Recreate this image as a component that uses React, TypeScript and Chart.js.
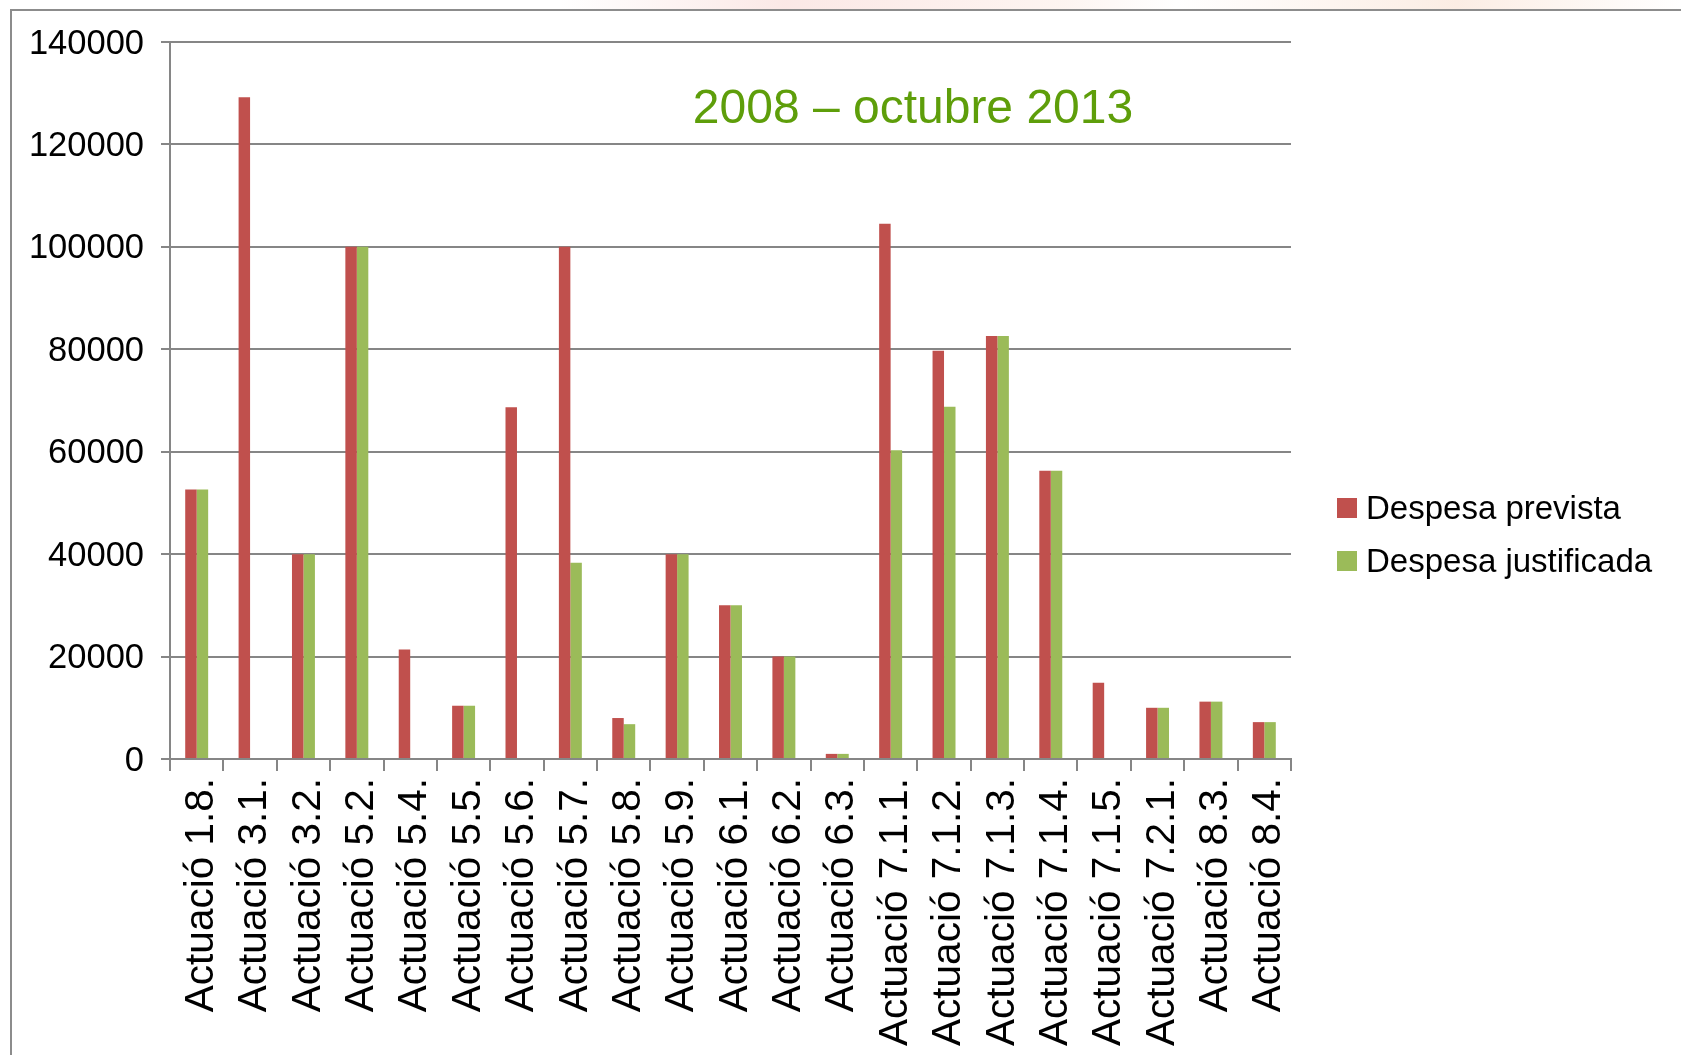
import React, { useEffect, useRef } from "react";
import { Chart, registerables } from "chart.js";

Chart.register(...registerables);

const FONT = '"Liberation Sans", Arial, Helvetica, sans-serif';

const categories = [
  "Actuació 1.8.", "Actuació 3.1.", "Actuació 3.2.", "Actuació 5.2.", "Actuació 5.4.",
  "Actuació 5.5.", "Actuació 5.6.", "Actuació 5.7.", "Actuació 5.8.", "Actuació 5.9.",
  "Actuació 6.1.", "Actuació 6.2.", "Actuació 6.3.", "Actuació 7.1.1.", "Actuació 7.1.2.",
  "Actuació 7.1.3.", "Actuació 7.1.4.", "Actuació 7.1.5.", "Actuació 7.2.1.", "Actuació 8.3.",
  "Actuació 8.4.",
];

const despesaPrevista = [
  52600, 129200, 40000, 100000, 21400,
  10400, 68700, 100000, 8000, 40000,
  30000, 20000, 1000, 104500, 79700,
  82600, 56300, 14900, 10000, 11200,
  7200,
];

const despesaJustificada = [
  52600, null, 40000, 100000, null,
  10400, null, 38300, 6800, 40000,
  30000, 20000, 1000, 60300, 68800,
  82600, 56300, null, 10000, 11200,
  7200,
];

const seriesNames = ["Despesa prevista", "Despesa justificada"];
const seriesColors = ["#C0504D", "#9BBB59"];

const yTicks = { min: 0, max: 140000, step: 20000 };

const chartTitle = "2008 – octubre 2013";

const GRID = "#868686";

const insideTitle = {
  id: "insideTitle",
  afterDatasetsDraw(chart: any) {
    const { ctx } = chart;
    ctx.save();
    ctx.font = `48px ${FONT}`;
    ctx.fillStyle = "#5E9E0A";
    ctx.textAlign = "center";
    ctx.textBaseline = "alphabetic";
    ctx.fillText(chartTitle, 913, 123);
    ctx.restore();
  },
};

const sideLegend = {
  id: "sideLegend",
  afterDraw(chart: any) {
    const { ctx } = chart;
    ctx.save();
    chart.data.datasets.forEach((ds: any, i: number) => {
      const cy = 508 + i * 53;
      ctx.fillStyle = ds.backgroundColor;
      ctx.fillRect(1337, cy - 10, 20, 20);
      ctx.fillStyle = "#000";
      ctx.font = `33px ${FONT}`;
      ctx.textAlign = "left";
      ctx.textBaseline = "middle";
      ctx.fillText(ds.label, 1366, cy + 2);
    });
    ctx.restore();
  },
};

export default function App() {
  const canvasRef = useRef<HTMLCanvasElement | null>(null);

  useEffect(() => {
    const canvas = canvasRef.current;
    if (!canvas) return;
    const chart = new Chart(canvas, {
      type: "bar",
      data: {
        labels: categories,
        datasets: [
          {
            label: seriesNames[0],
            data: despesaPrevista,
            backgroundColor: seriesColors[0],
            borderWidth: 0,
            categoryPercentage: 0.43,
            barPercentage: 1,
          },
          {
            label: seriesNames[1],
            data: despesaJustificada,
            backgroundColor: seriesColors[1],
            borderWidth: 0,
            categoryPercentage: 0.43,
            barPercentage: 1,
          },
        ],
      },
      options: {
        responsive: false,
        animation: false,
        events: [],
        layout: { padding: { left: 28, top: 42, right: 390, bottom: 0 } },
        plugins: {
          tooltip: { enabled: false },
          title: { display: false },
          legend: { display: false },
        },
        scales: {
          x: {
            type: "category",
            offset: true,
            grid: {
              offset: true,
              drawOnChartArea: false,
              drawTicks: true,
              tickLength: 12,
              color: GRID,
              lineWidth: 2,
            },
            border: { display: true, color: GRID, width: 2 },
            ticks: {
              autoSkip: false,
              minRotation: 90,
              maxRotation: 90,
              padding: 7,
              labelOffset: 5,
              color: "#000",
              font: { family: FONT, size: 40.5 },
            },
            afterFit(scale: any) {
              scale.height = 296;
            },
          },
          y: {
            min: yTicks.min,
            max: yTicks.max,
            grid: {
              color: GRID,
              lineWidth: 2,
              tickLength: 9,
              drawTicks: true,
            },
            border: { display: true, color: GRID, width: 2 },
            ticks: {
              stepSize: yTicks.step,
              padding: 17,
              labelOffset: 2,
              color: "#000",
              font: { family: FONT, size: 34.5 },
              callback: (v: any) => String(v),
            },
            afterFit(scale: any) {
              scale.width = 142;
            },
          },
        },
      },
      plugins: [insideTitle, sideLegend],
    });
    return () => chart.destroy();
  }, []);

  return (
    <div
      style={{
        position: "absolute",
        left: 0,
        top: 0,
        width: 1681,
        height: 1055,
        background: "#ffffff",
        overflow: "hidden",
      }}
    >
      <div
        style={{
          position: "absolute",
          left: 560,
          top: 0,
          width: 1121,
          height: 9,
          background:
            "linear-gradient(90deg, rgba(255,255,255,0) 0%, rgba(246,205,200,0.45) 20%, rgba(250,225,215,0.35) 45%, rgba(255,255,255,0.2) 55%, rgba(247,215,195,0.45) 80%, rgba(255,255,255,0) 100%)",
        }}
      />
      <div
        style={{
          position: "absolute",
          left: 10,
          top: 9,
          width: 1700,
          height: 1100,
          borderLeft: "2px solid #8C8C8C",
          borderTop: "2px solid #8C8C8C",
        }}
      />
      <canvas
        ref={canvasRef}
        width={1681}
        height={1055}
        style={{ position: "absolute", left: 0, top: 0, display: "block" }}
      />
    </div>
  );
}
